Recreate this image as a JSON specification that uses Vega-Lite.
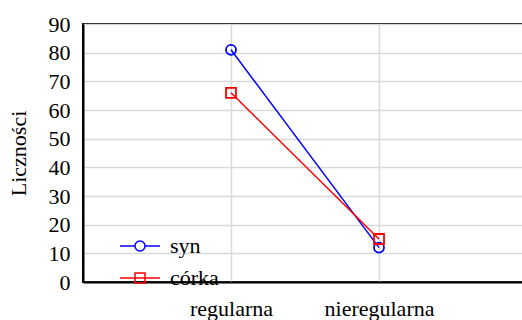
{
  "$schema": "https://vega.github.io/schema/vega-lite/v6.json",
  "autosize": {"type": "none"},
  "padding": {"left": 83, "top": 24, "right": 0, "bottom": 38},
  "width": 444,
  "height": 258,
  "background": "white",
  "config": {
    "font": "Liberation Serif",
    "view": {"stroke": "black", "strokeWidth": 2},
    "axis": {
      "labelFont": "Liberation Serif",
      "titleFont": "Liberation Serif",
      "labelColor": "black",
      "titleColor": "black",
      "labelFontSize": 22,
      "titleFontSize": 22,
      "titleFontWeight": "normal",
      "domainColor": "black",
      "domainWidth": 2,
      "ticks": false,
      "gridColor": "#d9d9d9",
      "gridWidth": 1.5,
      "gridOpacity": 1
    },
    "legend": {
      "orient": "none",
      "legendX": 41,
      "legendY": 206,
      "padding": 0,
      "symbolSize": 900,
      "symbolStrokeWidth": 1.5,
      "symbolFillColor": "transparent",
      "labelFont": "Liberation Serif",
      "labelFontSize": 22,
      "labelColor": "black",
      "labelOffset": 14,
      "rowPadding": 5
    }
  },
  "data": {
    "values": [
      {"kategoria": "regularna", "serie": "syn", "n": 81},
      {"kategoria": "nieregularna", "serie": "syn", "n": 12},
      {"kategoria": "regularna", "serie": "córka", "n": 66},
      {"kategoria": "nieregularna", "serie": "córka", "n": 15}
    ]
  },
  "encoding": {
    "x": {
      "field": "kategoria",
      "type": "nominal",
      "sort": ["regularna", "nieregularna"],
      "scale": {"type": "point", "padding": 1},
      "axis": {"title": null, "labelAngle": 0, "labelPadding": 16, "grid": true, "domain": true}
    },
    "y": {
      "field": "n",
      "type": "quantitative",
      "scale": {"domain": [0, 90], "nice": false},
      "axis": {"title": "Liczności", "values": [0,10,20,30,40,50,60,70,80,90], "labelPadding": 13, "titlePadding": 18, "grid": true}
    }
  },
  "layer": [
    {
      "mark": {"type": "line", "strokeWidth": 1.5},
      "encoding": {
        "color": {"field": "serie", "type": "nominal", "scale": {"domain": ["syn", "córka"], "range": ["#0000ff", "#ff0000"]}, "legend": null}
      }
    },
    {
      "mark": {"type": "point", "filled": false, "size": 100, "strokeWidth": 1.8, "opacity": 1},
      "encoding": {
        "color": {"field": "serie", "type": "nominal", "scale": {"domain": ["syn", "córka"], "range": ["#0000ff", "#ff0000"]}, "legend": null},
        "shape": {"field": "serie", "type": "nominal", "scale": {"domain": ["syn", "córka"], "range": ["circle", "square"]}, "legend": null}
      }
    },
    {
      "transform": [{"filter": "false"}],
      "mark": {"type": "point", "filled": false, "strokeWidth": 1.5, "opacity": 1},
      "encoding": {
        "color": {"field": "serie", "type": "nominal", "scale": {"domain": ["syn", "córka"], "range": ["#0000ff", "#ff0000"]}, "legend": {"title": null}},
        "shape": {"field": "serie", "type": "nominal", "scale": {"domain": ["syn", "córka"], "range": ["M-1.33,0H-0.333M0.333,0H1.33M0.333,0A0.333,0.333 0 1 1 -0.333,0A0.333,0.333 0 1 1 0.333,0", "M-1.33,0H1.33M-0.333,-0.333H0.333V0.333H-0.333Z"]}, "legend": {"title": null}}
      }
    }
  ],
  "resolve": {
    "scale": {"color": "independent", "shape": "independent"},
    "legend": {"color": "independent", "shape": "independent"}
  }
}
